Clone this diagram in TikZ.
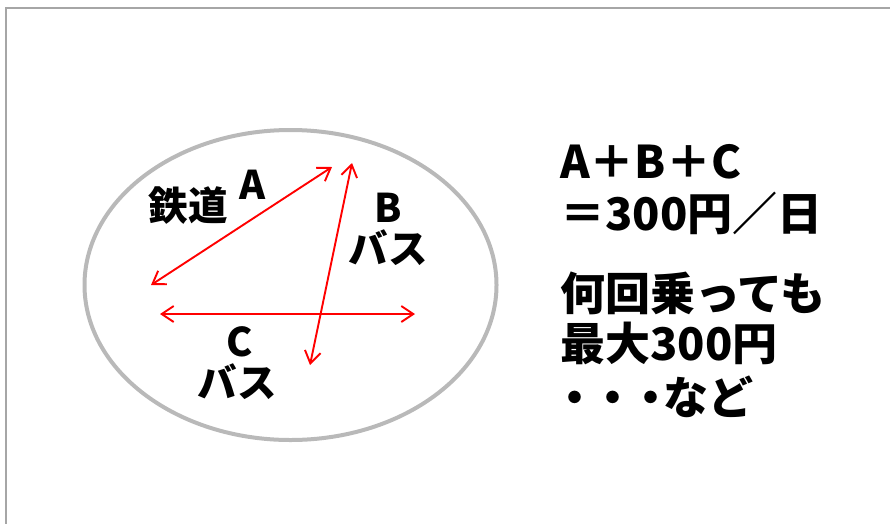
\documentclass[tikz,border=0pt]{standalone}
\usepackage{fontspec}
\newfontfamily\jp{Noto Sans CJK JP}
\usetikzlibrary{arrows.meta}

\begin{document}
\begin{tikzpicture}[x=1pt, y=-1pt]
	\tikzstyle{every node}=[inner sep=0pt, align=center, font=\jp\bfseries\fontsize{39.5}{42}\selectfont]
	\tikzstyle{route}=[draw=red, line width=1.9pt, {Straight Barb[length=12pt, width=16pt]}-{Straight Barb[length=12pt, width=16pt]}]
	\tikzstyle{rtext}=[anchor=west, font=\jp\bfseries\fontsize{45}{48}\selectfont]
	\useasboundingbox (0, 0) rectangle (890, 523);
	\draw [gray!70, line width=1.6pt] (6, 560) -- (6, 8) -- (920, 8);
	\draw [gray!55, line width=4pt] (290.5, 285) ellipse [x radius=206, y radius=155];
	% routes
	\coordinate (a1) at (151, 285);
	\coordinate (a2) at (332, 167);
	\coordinate (b1) at (352, 163);
	\coordinate (b2) at (310, 365);
	\coordinate (c1) at (160, 314);
	\coordinate (c2) at (415, 314);
	\draw [route] (a1) -- (a2);
	\draw [route] (b1) -- (b2);
	\draw [route] (c1) -- (c2);
	% labels
	\node (rail) at (188, 206) {鉄道};
	\node (A) at (253, 185) {A};
	\node (B) at (388, 208) {B};
	\node (busB) at (388, 248) {バス};
	\node (C) at (240, 342) {C};
	\node (busC) at (237, 382) {バス};
	% fare text
	\node [rtext] (l1) at (560, 162) {A＋B＋C};
	\node [rtext] (l2) at (560, 213) {＝300円／日};
	\node [rtext] (l3) at (560, 293) {何回乗っても};
	\node [rtext] (l4) at (560, 343) {最大300円};
	\node [rtext] (l5) at (552, 397) {・\kern-7pt・\kern-7pt・\kern-10ptなど};
\end{tikzpicture}
\end{document}
